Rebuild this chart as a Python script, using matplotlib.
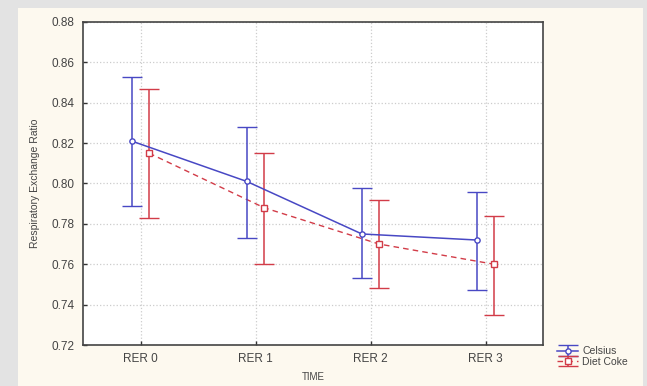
import numpy as np
import matplotlib.pyplot as plt
from matplotlib.patches import Rectangle

plt.rcParams['font.family'] = ['Liberation Sans', 'DejaVu Sans']

# ====================================================================
# Data
# ====================================================================
categories = ['RER 0', 'RER 1', 'RER 2', 'RER 3']

celsius_mean = [0.821, 0.801, 0.775, 0.772]
celsius_upper = [0.853, 0.828, 0.798, 0.796]
celsius_lower = [0.789, 0.773, 0.753, 0.747]

coke_mean = [0.815, 0.788, 0.770, 0.760]
coke_upper = [0.847, 0.815, 0.792, 0.784]
coke_lower = [0.783, 0.760, 0.748, 0.735]

yticks = [0.72, 0.74, 0.76, 0.78, 0.80, 0.82, 0.84, 0.86, 0.88]

BLUE = '#4848c4'
RED = '#d23c48'
PANEL = '#fdf9ef'
OUTER = '#e3e3e3'
TXT = '#444444'

x = np.arange(len(categories))
off = 0.075

fig = plt.figure(figsize=(6.47, 3.86), dpi=100)
fig.patch.set_facecolor(OUTER)
# cream panel behind everything
fig.patches.append(Rectangle((18 / 647, 0), (643 - 18) / 647, 1 - 8 / 386,
                             transform=fig.transFigure, facecolor=PANEL,
                             edgecolor='none', zorder=-10))

ax = fig.add_axes([83 / 647, 1 - 345 / 386, (543 - 83) / 647, (345 - 22) / 386])
ax.set_facecolor('white')

err_c = [np.array(celsius_mean) - np.array(celsius_lower),
         np.array(celsius_upper) - np.array(celsius_mean)]
err_d = [np.array(coke_mean) - np.array(coke_lower),
         np.array(coke_upper) - np.array(coke_mean)]

ax.errorbar(x - off, celsius_mean, yerr=err_c, color=BLUE, lw=1.1,
            marker='o', ms=3.8, mfc='white', mec=BLUE, mew=1.0,
            capsize=7, capthick=1.1, elinewidth=1.1, label='Celsius', zorder=4)
ax.errorbar(x + off, coke_mean, yerr=err_d, color=RED, lw=1.0, ls=(0, (4, 3)),
            marker='s', ms=3.8, mfc='white', mec=RED, mew=1.0,
            capsize=7, capthick=1.1, elinewidth=1.1, label='Diet Coke', zorder=3)

ax.set_xlim(-0.5, 3.5)
ax.set_ylim(0.72, 0.88)
ax.set_xticks(x)
ax.set_xticklabels(categories)
ax.set_yticks(yticks)
ax.set_yticklabels([f'{v:.2f}' for v in yticks])
ax.tick_params(direction='in', length=3, width=1.0, colors='#333333',
               labelsize=8.5, labelcolor=TXT)
ax.tick_params(axis='y', pad=6)
ax.tick_params(axis='x', pad=6)
ax.grid(True, color='#cccccc', ls=':', lw=0.9)
ax.set_axisbelow(True)
for s in ax.spines.values():
    s.set_color('#444444')
    s.set_linewidth(1.2)

ax.set_ylabel('Respiratory Exchange Ratio', fontsize=7.5, color=TXT, labelpad=8)
ax.set_xlabel('TIME', fontsize=7, color=TXT, labelpad=5)

leg = fig.legend(loc='lower left', bbox_to_anchor=(551 / 647, 13 / 386),
                 fontsize=7.5, frameon=False, handlelength=2.0,
                 handletextpad=0.4, labelspacing=0.05, borderpad=0.1)
for t in leg.get_texts():
    t.set_color(TXT)

fig.savefig('out.png', dpi=100, facecolor=fig.get_facecolor())
